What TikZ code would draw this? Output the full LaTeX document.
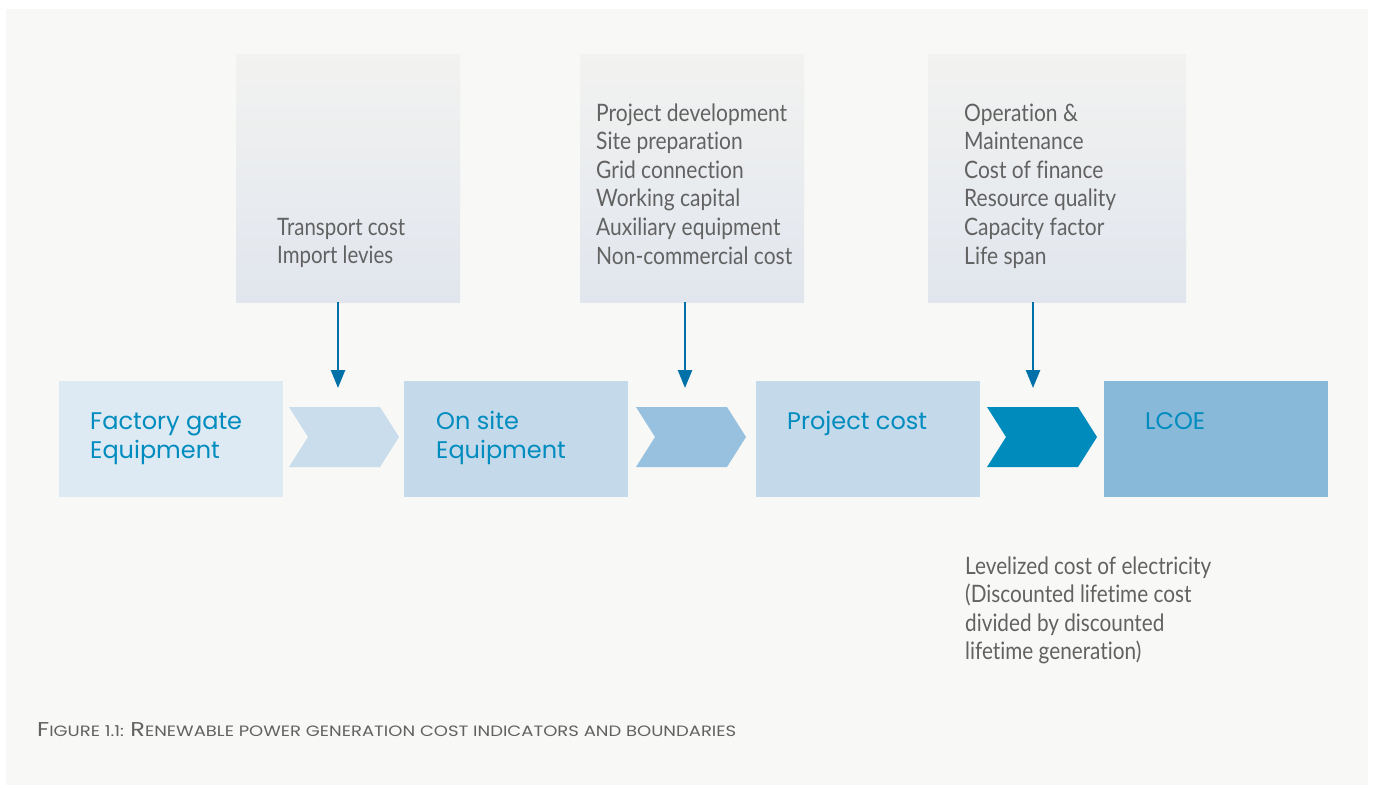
\documentclass[tikz,border=0pt]{standalone}
\usepackage{fontspec}
\usepackage{graphicx}
\setmainfont{Lato}[Ligatures=NoCommon]
\newfontfamily\geo{Poppins}[Ligatures=NoCommon]
\usetikzlibrary{arrows.meta}
\definecolor{panel}{RGB}{248,248,246}
\definecolor{tgray}{RGB}{98,98,98}
\definecolor{tblue}{RGB}{0,140,190}
\definecolor{arrblue}{RGB}{0,112,168}
\definecolor{bxa}{RGB}{221,233,243}
\definecolor{bxb}{RGB}{196,217,234}
\definecolor{bxd}{RGB}{137,185,217}
\definecolor{cva}{RGB}{201,221,237}
\definecolor{cvb}{RGB}{151,193,223}
\definecolor{cvc}{RGB}{0,139,189}
\definecolor{gtop}{RGB}{242,242,240}
\definecolor{gbot}{RGB}{225,230,238}
\newsavebox\measbox
\newlength\measw
\newcommand\fitx[2]{\sbox\measbox{#2}\setlength\measw{\wd\measbox}\pgfmathsetmacro\fitfac{#1/\the\measw}\scalebox{\fitfac}[1]{\usebox\measbox}}
\newcommand\blk[2]{\fitx{#1}{\fontsize{24}{28.6}\selectfont\begin{tabular}[t]{@{}l@{}}#2\end{tabular}}}
\newcommand\lbl[1]{{\geo\fontsize{24}{28.6}\selectfont\begin{tabular}[t]{@{}l@{}}#1\end{tabular}}}
\newcommand\fsc[2]{{\fontsize{20}{20}\selectfont #1}{\fontsize{15}{15}\selectfont #2}}
\begin{document}
\begin{tikzpicture}[x=1pt,y=-1pt,
  topbox/.style={shade, top color=gtop, bottom color=gbot, draw=none, inner sep=0, minimum height=248pt},
  mainbox/.style={draw=none, inner sep=0, minimum width=224pt, minimum height=116pt},
  txt/.style={anchor=base west, inner sep=0, text=tgray},
  btxt/.style={anchor=base west, inner sep=0, text=tblue},
  arr/.style={draw=arrblue, line width=2.5pt, -{Triangle[width=14pt,length=18pt]}}]
\useasboundingbox (0,0) rectangle (1373,787);
\fill[white] (0,0) rectangle (1373,787);
\fill[panel] (6,9) rectangle (1368,785);
% top boxes
\node[topbox, minimum width=224pt] (tb1) at (348,178) {};
\node[topbox, minimum width=224pt] (tb2) at (692,178) {};
\node[topbox, minimum width=258pt] (tb3) at (1057,178) {};
\node[txt] (t1) at (277,235) {\blk{128}{Transport cost\\Import levies}};
\node[txt] (t2) at (596,121) {\blk{196}{Project development\\Site preparation\\Grid connection\\Working capital\\Auxiliary equipment\\Non-commercial cost}};
\node[txt] (t3) at (964,121) {\blk{152}{Operation \&\\Maintenance\\Cost of finance\\Resource quality\\Capacity factor\\Life span}};
% main boxes
\node[mainbox, fill=bxa] (m1) at (171,439) {};
\node[mainbox, fill=bxb] (m2) at (516,439) {};
\node[mainbox, fill=bxb] (m3) at (868,439) {};
\node[mainbox, fill=bxd] (m4) at (1216,439) {};
\node[btxt] (l1) at (90,429.5) {\lbl{Factory gate\\Equipment}};
\node[btxt] (l2) at (436,429.5) {\lbl{On site\\Equipment}};
\node[btxt] (l3) at (787,429.5) {\lbl{Project cost}};
\node[btxt] (l4) at (1145,429.5) {\lbl{LCOE}};
% chevrons
\fill[cva] (289,407) -- (380,407) -- (399,437) -- (380,467) -- (289,467) -- (308,437) -- cycle;
\fill[cvb] (636,407) -- (727,407) -- (746,437) -- (727,467) -- (636,467) -- (655,437) -- cycle;
\fill[cvc] (987,407) -- (1078,407) -- (1097,437) -- (1078,467) -- (987,467) -- (1006,437) -- cycle;
% arrows
\coordinate (a1) at (338,388);
\coordinate (a2) at (685,388);
\coordinate (a3) at (1033,388);
\draw[arr] (tb1.south -| a1) -- (a1);
\draw[arr] (tb2.south -| a2) -- (a2);
\draw[arr] (tb3.south -| a3) -- (a3);
% bottom text
\node[txt] (t4) at (965,574) {\blk{246}{Levelized cost of electricity\\(Discounted lifetime cost\\divided by discounted\\lifetime generation)}};
% caption
\node[txt] (cap) at (37,736.5) {\fitx{699}{\geo\fsc{F}{IGURE 1.1: }\fsc{R}{ENEWABLE POWER GENERATION COST INDICATORS AND BOUNDARIES}}};
\end{tikzpicture}
\end{document}
